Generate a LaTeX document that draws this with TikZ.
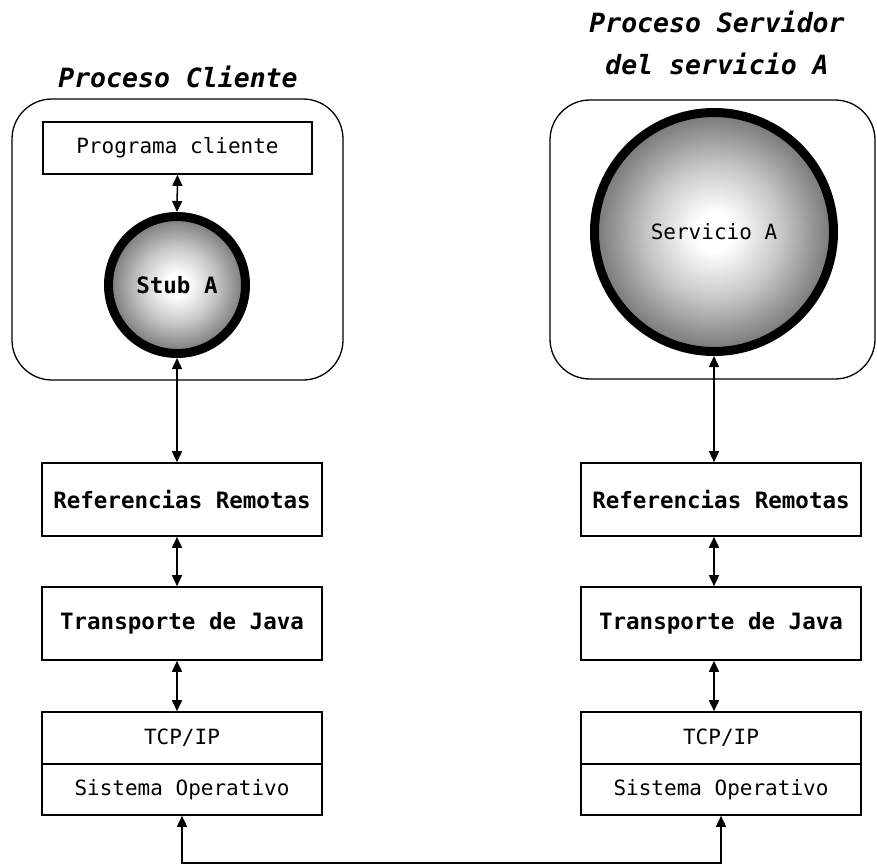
\documentclass[tikz,border=0pt]{standalone}
\usepackage{fontspec}
\setmainfont{DejaVu Sans Mono}
\usepackage{tikz}
\usetikzlibrary{arrows.meta, positioning, calc}
\definecolor{ballgray}{RGB}{118,118,118}
\pgfdeclareradialshading{ballshade}{\pgfpoint{0bp}{0bp}}{color(0bp)=(white); color(4bp)=(white); color(14bp)=(black!22); color(25bp)=(ballgray); color(50bp)=(ballgray)}

\begin{document}
\begin{tikzpicture}[x=1pt, y=-1pt, >={Triangle[length=11pt, width=10pt]},
    layer/.style={draw, line width=1.6pt, minimum width=280pt, minimum height=73pt, inner sep=0pt, font=\fontsize{22.5}{26}\selectfont\bfseries},
    plain/.style={draw, line width=1.6pt, minimum width=280pt, inner sep=0pt, font=\fontsize{21}{25}\selectfont},
    procbox/.style={draw, line width=1.3pt, rounded corners=40pt, inner sep=0pt},
    ball/.style={circle, draw, line width=9pt, shading=ballshade, inner sep=0pt},
    title/.style={font=\fontsize{26.5}{42}\selectfont\bfseries\itshape, align=center},
    link/.style={<->, line width=1.5pt}]
    \useasboundingbox (0,0) rectangle (877,865);

    % titles of both processes
    \node[title, anchor=base] (titleL) at (178,87) {Proceso Cliente};
    \node[title, anchor=base] (titleR) at (717,74) {Proceso Servidor\\del servicio A};

    % process frames
    \node[procbox, minimum width=331pt, minimum height=281pt] (procL) at (177.5,239.5) {};
    \node[procbox, minimum width=325pt, minimum height=279pt] (procR) at (712.5,239.5) {};

    \node[plain, minimum width=269pt, minimum height=52pt] (prog) at (177.5,148) {Programa cliente};
    \node[ball, minimum size=137pt, font=\fontsize{22.5}{26}\selectfont\bfseries] (stub) at (177,285) {Stub A};
    \node[ball, minimum size=239pt, font=\fontsize{21}{25}\selectfont] (serv) at (714,232) {Servicio A};

    % client stack
    \node[layer] (refL) at (182,499.5) {Referencias Remotas};
    \node[layer] (javaL) at (182,623.5) {Transporte de Java};
    \node[plain, minimum height=52pt] (tcpL) at (182,738) {TCP/IP};
    \node[plain, minimum height=51pt] (soL) at (182,789.5) {Sistema Operativo};

    % server stack
    \node[layer] (refR) at (721,499.5) {Referencias Remotas};
    \node[layer] (javaR) at (721,623.5) {Transporte de Java};
    \node[plain, minimum height=52pt] (tcpR) at (721,738) {TCP/IP};
    \node[plain, minimum height=51pt] (soR) at (721,789.5) {Sistema Operativo};

    \draw[link] (prog.south) -- (stub.north);
    \draw[link] (stub.south) -- (stub.south |- refL.north);
    \draw[link] (refL.south -| stub.south) -- (javaL.north -| stub.south);
    \draw[link] (javaL.south -| stub.south) -- (tcpL.north -| stub.south);

    \draw[link] (serv.south) -- (serv.south |- refR.north);
    \draw[link] (refR.south -| serv.south) -- (javaR.north -| serv.south);
    \draw[link] (javaR.south -| serv.south) -- (tcpR.north -| serv.south);

    % network between the two machines
    \draw[link] (soL.south) -- ++(0,47) -| (soR.south);
\end{tikzpicture}
\end{document}
